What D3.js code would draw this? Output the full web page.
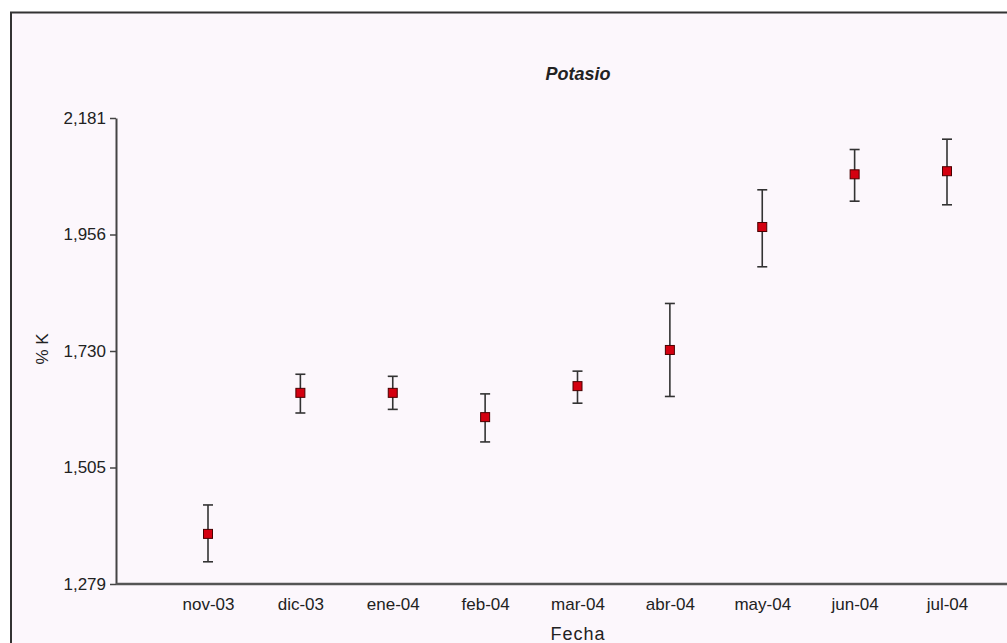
<!DOCTYPE html>
<html>
<head>
<meta charset="utf-8">
<script src="https://cdn.jsdelivr.net/npm/d3@7/dist/d3.min.js"></script>
<style>
  html, body { margin: 0; padding: 0; background: #ffffff; }
  svg { display: block; }
  text { font-family: "Liberation Sans", Arial, sans-serif; fill: #222; }
</style>
</head>
<body>
<script>
// ---- Data ----
const categories = ["nov-03", "dic-03", "ene-04", "feb-04", "mar-04", "abr-04", "may-04", "jun-04", "jul-04"];
const means = [1376, 1649, 1649, 1602, 1662, 1732, 1970, 2072, 2078];
const upper = [1432, 1685, 1681, 1647, 1691, 1822, 2042, 2120, 2140];
const lower = [1322, 1610, 1617, 1554, 1629, 1642, 1893, 2020, 2013];
const yTickValues = [1279, 1504.5, 1730, 1955.5, 2181];
const yTickLabels = ["1,279", "1,505", "1,730", "1,956", "2,181"];
const title = "Potasio";
const xTitle = "Fecha";
const yTitle = "% K";

const W = 1007, H = 643;
const svg = d3.select("body").append("svg").attr("width", W).attr("height", H);

// frame
svg.append("rect").attr("x", 11).attr("y", 12.5).attr("width", W + 20).attr("height", H + 20)
  .attr("fill", "#fcf7fc").attr("stroke", "#333").attr("stroke-width", 2);

const x = d3.scalePoint().domain(categories).range([208, 947]);
const y = d3.scaleLinear().domain([1279, 2181]).range([584, 118]);

// y axis
const yAxis = d3.axisLeft(y).tickValues(yTickValues)
  .tickFormat((d, i) => yTickLabels[i]).tickSize(6).tickSizeOuter(0).tickPadding(4);
const gy = svg.append("g").attr("transform", "translate(116,0)").call(yAxis);
gy.select(".domain").attr("stroke", "#444").attr("stroke-width", 2);
gy.selectAll(".tick line").attr("stroke", "#444").attr("stroke-width", 1.5);
gy.selectAll(".tick text").style("font-size", "17px").attr("fill", "#222")
  .style("font-family", '"Liberation Sans", Arial, sans-serif');

// x axis
const xAxis = d3.axisBottom(x).tickSize(0).tickPadding(14);
const gx = svg.append("g").attr("transform", "translate(0,584)").call(xAxis);
gx.select(".domain").remove();
gx.append("line").attr("x1", 116).attr("x2", W).attr("y1", 0).attr("y2", 0)
  .attr("stroke", "#555").attr("stroke-width", 2.5);
gx.selectAll(".tick text").style("font-size", "17px").attr("fill", "#222")
  .style("font-family", '"Liberation Sans", Arial, sans-serif');

// error bars
const data = categories.map((c, i) => ({ c, m: means[i], hi: upper[i], lo: lower[i] }));
const g = svg.append("g");
g.selectAll("line.err").data(data).join("line").attr("class", "err")
  .attr("x1", d => x(d.c)).attr("x2", d => x(d.c))
  .attr("y1", d => y(d.hi)).attr("y2", d => y(d.lo))
  .attr("stroke", "#333").attr("stroke-width", 1.6);
g.selectAll("line.capT").data(data).join("line").attr("class", "capT")
  .attr("x1", d => x(d.c) - 5).attr("x2", d => x(d.c) + 5)
  .attr("y1", d => y(d.hi)).attr("y2", d => y(d.hi))
  .attr("stroke", "#333").attr("stroke-width", 1.6);
g.selectAll("line.capB").data(data).join("line").attr("class", "capB")
  .attr("x1", d => x(d.c) - 5).attr("x2", d => x(d.c) + 5)
  .attr("y1", d => y(d.lo)).attr("y2", d => y(d.lo))
  .attr("stroke", "#333").attr("stroke-width", 1.6);
g.selectAll("rect.pt").data(data).join("rect").attr("class", "pt")
  .attr("x", d => x(d.c) - 4.5).attr("y", d => y(d.m) - 4.5)
  .attr("width", 9).attr("height", 9)
  .attr("fill", "#d40010").attr("stroke", "#4a0000").attr("stroke-width", 1);

// titles
svg.append("text").attr("x", 578).attr("y", 80).attr("text-anchor", "middle")
  .style("font-size", "18px").style("font-weight", "bold").style("font-style", "italic")
  .text(title);
svg.append("text").attr("x", 578).attr("y", 640).attr("text-anchor", "middle")
  .style("font-size", "18px").style("letter-spacing", "1px").attr("fill", "#333")
  .text(xTitle);
svg.append("text").attr("transform", "translate(48,349) rotate(-90)").attr("text-anchor", "middle")
  .style("font-size", "17px").attr("fill", "#222")
  .text(yTitle);
</script>
</body>
</html>
